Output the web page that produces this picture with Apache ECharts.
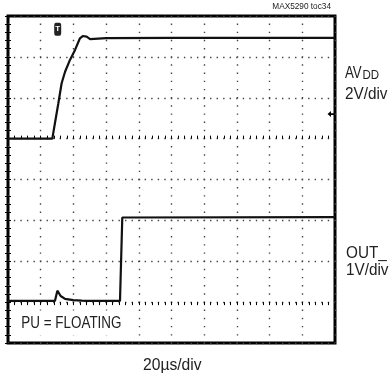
<!DOCTYPE html>
<html>
<head>
<meta charset="utf-8">
<script src="https://cdn.jsdelivr.net/npm/echarts@6/dist/echarts.min.js"></script>
<style>
  html, body { margin: 0; padding: 0; background: #fff; }
  #chart { width: 390px; height: 379px; }
</style>
</head>
<body>
<div id="chart"></div>
<script>
// Scope capture: AVDD ramp and OUT_ power-up response, PU pin floating.
// Time base 20 µs/div over 10 divisions.
const timeRange = [0, 200];
const timePerDiv = 20;

// AVDD channel: 2 V/div, ground reference 3 divisions below the top edge.
const avddRange = [-10, 6];
const avddPerDiv = 2;
const avddTime  = [0, 27.1, 28.7, 30.8, 32.8, 34.9, 37.9, 41.0, 44.0, 45.7, 48.1, 50.2, 60, 100, 150, 200];
const avddVolts = [0, 0, 0.75, 1.73, 2.71, 3.27, 3.85, 4.34, 4.91, 5.02, 4.99, 4.87, 4.92, 4.93, 4.93, 4.93];

// OUT_ channel: 1 V/div, ground reference 1 division above the bottom edge.
const outRange = [-1, 7];
const outPerDiv = 1;
const outTime  = [0, 28.7, 30.2, 32.2, 34.9, 39.9, 45.1, 48.1, 68.5, 69.9, 71, 200];
const outVolts = [0.03, 0.03, 0.28, 0.15, 0.08, 0.05, 0.035, 0.03, 0.03, 2.07, 2.08, 2.08];

// Trigger point (time) and trigger level (AVDD volts).
const triggerTime = 30.4;
const triggerLevel = 1.2;

const FONT = '"Liberation Sans", Arial, sans-serif';
const INK = '#111';
const TEXT = '#222';

const pairs = (xs, ys) => xs.map((x, i) => [x, ys[i]]);

// Dotted graticule: one dot per minor division (5 per major).
const plotSize = 327;
const xDot = plotSize / ((timeRange[1] - timeRange[0]) / timePerDiv) / 5;
const yDot = plotSize / ((avddRange[1] - avddRange[0]) / avddPerDiv) / 5;
const dotW = 1.4;

const tickStyle = {
  show: true, inside: true, length: 3,
  lineStyle: { color: '#000', width: 1 }
};
const minorTickStyle = {
  show: true, splitNumber: 5, length: 3,
  lineStyle: { color: '#000', width: 1 }
};

// Condensed caption text: regular face narrowed horizontally.
function caption(text, x, y, size, squeeze, align, extra) {
  return {
    type: 'text', x: x, y: y, scaleX: squeeze, scaleY: 1, z: 10,
    style: Object.assign({ text: text, font: size + 'px ' + FONT, fill: TEXT,
             textAlign: align || 'left', textVerticalAlign: 'middle' }, extra || {})
  };
}

const chart = echarts.init(document.getElementById('chart'), null, { renderer: 'canvas' });

chart.setOption({
  animation: false,
  backgroundColor: '#fff',
  grid: {
    left: 8, right: 55, top: 16, bottom: 36,
    show: true, borderColor: '#000', borderWidth: 3, backgroundColor: 'transparent'
  },
  xAxis: [
    {
      type: 'value', position: 'bottom',
      min: timeRange[0], max: timeRange[1], interval: timePerDiv,
      axisLine: { show: false }, axisLabel: { show: false },
      axisTick: tickStyle, minorTick: minorTickStyle,
      splitLine: {
        show: true,
        lineStyle: { color: '#444', width: dotW, type: [dotW, yDot - dotW], dashOffset: dotW / 2 }
      }
    },
    {
      type: 'value', position: 'top',
      min: timeRange[0], max: timeRange[1], interval: timePerDiv,
      axisLine: { show: false }, axisLabel: { show: false },
      axisTick: tickStyle, minorTick: minorTickStyle,
      splitLine: { show: false }
    }
  ],
  yAxis: [
    {
      type: 'value', position: 'left',
      min: avddRange[0], max: avddRange[1], interval: avddPerDiv,
      axisLine: { show: false }, axisLabel: { show: false },
      axisTick: tickStyle, minorTick: minorTickStyle,
      splitLine: {
        show: true,
        lineStyle: { color: '#444', width: dotW, type: [dotW, xDot - dotW], dashOffset: dotW / 2 }
      }
    },
    {
      type: 'value', position: 'right',
      min: outRange[0], max: outRange[1], interval: outPerDiv,
      axisLine: { show: false }, axisLabel: { show: false },
      axisTick: tickStyle, minorTick: minorTickStyle,
      splitLine: { show: false }
    }
  ],
  series: [
    {
      name: 'AVDD', type: 'line', xAxisIndex: 0, yAxisIndex: 0,
      data: pairs(avddTime, avddVolts),
      showSymbol: false, symbol: 'none',
      lineStyle: { color: INK, width: 2.2 },
      z: 5,
      markPoint: {
        silent: true,
        data: [
          {
            // trigger position flag on the top edge
            coord: [triggerTime, 5.35],
            symbol: 'roundRect', symbolSize: [7, 13],
            itemStyle: { color: '#222' },
            label: { show: true, position: 'inside', formatter: 'T', color: '#fff',
                     fontFamily: FONT, fontSize: 8, fontWeight: 'bold' }
          },
          {
            // trigger level arrow on the right edge
            coord: [timeRange[1], triggerLevel],
            symbol: 'path://M0,5 L6,0 L6,3.5 L12,3.5 L12,6.5 L6,6.5 L6,10 Z',
            symbolSize: [7, 6], symbolOffset: [-4, 0],
            itemStyle: { color: '#000' },
            label: { show: false }
          }
        ]
      }
    },
    {
      name: 'OUT_', type: 'line', xAxisIndex: 0, yAxisIndex: 1,
      data: pairs(outTime, outVolts),
      showSymbol: false, symbol: 'none',
      lineStyle: { color: INK, width: 2.2 },
      z: 5
    }
  ],
  graphic: [
    caption('MAX5290 toc34', 331, 7, 8.5, 0.97, 'right'),
    caption('AV', 345, 73, 17, 0.78),
    caption('DD', 362.5, 76, 12, 0.96),
    caption('2V/div', 345, 94, 17, 0.90),
    caption('OUT_', 346, 253, 17, 0.90),
    caption('1V/div', 346, 270, 17, 0.90),
    // condition label sits on an opaque patch over the graticule
    caption('PU = FLOATING', 19, 323, 17, 0.79, 'left',
            { backgroundColor: '#fff', padding: [4, 3, 4, 3] }),
    caption('20\u00b5s/div', 143, 365, 17, 0.92)
  ]
});
</script>
</body>
</html>
